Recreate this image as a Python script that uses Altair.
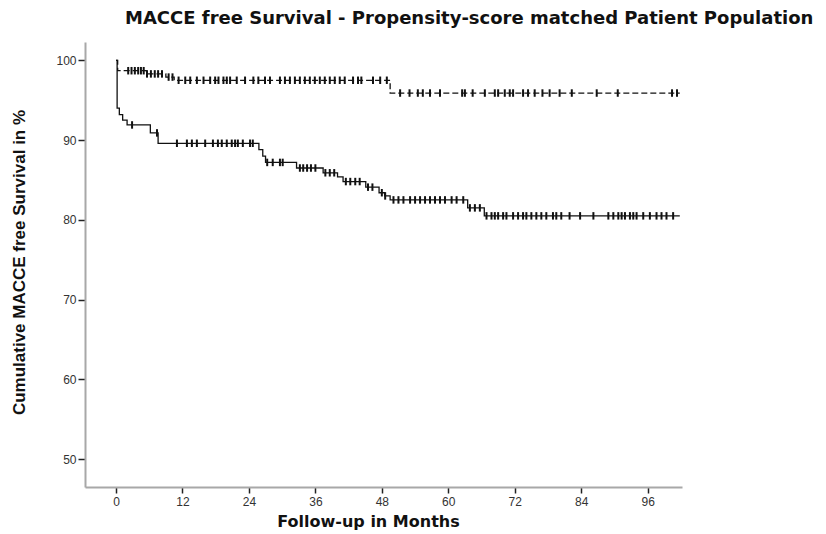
import altair as alt
import pandas as pd
import bisect

# ---- Kaplan-Meier step data (months, % MACCE-free survival) ----
lower_times = [0, 0.2, 0.6, 1.2, 2.0, 6.2, 7.6, 25.8, 26.5, 27.0, 32.6, 37.4, 40.0, 41.0,
               45.1, 47.5, 48.5, 49.5, 63.5, 66.5, 101.8]
lower_surv = [100, 94.0, 93.2, 92.5, 91.9, 90.9, 89.6, 88.8, 88.0, 87.2, 86.5, 85.9, 85.4, 84.8,
              84.1, 83.4, 83.0, 82.5, 81.5, 80.5, 80.5]

upper_times = [0, 0.3, 5.5, 9.0, 10.5, 49.5, 101.8]
upper_surv = [100, 98.7, 98.3, 97.9, 97.5, 95.9, 95.9]

# ---- censoring times (months) ----
lower_censor = [2.9, 7.4,
                11.0, 12.8, 13.7, 14.6, 16.1, 17.5, 18.4, 19.1, 20.0, 20.9, 21.5, 22.0, 22.9, 24.2, 24.7,
                27.3, 28.3, 29.6, 30.1,
                33.2, 33.8, 34.5, 35.2, 36.0,
                37.8, 38.6, 39.4,
                41.5, 42.3, 43.2, 44.0,
                45.5, 46.3,
                48.0, 48.6, 50.1, 51.0, 51.9, 53.1, 54.0, 54.9, 55.8, 56.7, 57.6, 58.5, 59.4, 60.6, 61.5, 62.7,
                63.9, 64.8, 65.7,
                66.9, 67.8, 68.4, 69.0, 69.9, 70.5, 71.7, 72.6, 73.5, 74.1, 75.0, 75.9, 76.8, 77.7, 78.9,
                79.5, 80.4, 81.9, 83.8, 86.2, 88.9, 89.8, 90.7, 91.3, 91.9, 92.8, 93.4, 94.0, 95.2, 96.4,
                97.6, 98.5, 99.4, 100.6]

upper_censor = [2.2, 2.8, 3.4, 4.0, 4.5, 5.0, 5.6, 6.3, 7.0, 7.6, 8.3, 9.5, 10.2,
                11.3, 12.5, 13.4, 14.6, 15.8, 17.0, 17.9, 18.5, 19.4, 20.0, 20.6, 21.8, 23.3, 24.8,
                25.7, 26.9, 27.8, 29.6, 30.5, 31.4, 32.3, 33.2, 34.1, 35.0, 35.9, 36.8, 37.7, 38.6,
                39.5, 40.4, 41.3, 42.8, 43.7, 44.3, 46.4, 47.7, 48.9,
                51.3, 53.0, 54.5, 55.4, 56.7, 58.5, 62.5, 63.0, 64.4, 66.6, 68.4, 69.0, 70.2, 71.1,
                71.7, 73.5, 74.4, 75.6, 77.0, 78.3, 80.1, 82.3, 86.8, 90.6, 100.4, 101.3]

x_ticks = [0, 12, 24, 36, 48, 60, 72, 84, 96]
y_ticks = [50, 60, 70, 80, 90, 100]


def surv_at(times, surv, t):
    i = bisect.bisect_right(times, t) - 1
    return surv[max(i, 0)]


steps = pd.DataFrame(
    [{"t": t, "s": s, "g": "lower"} for t, s in zip(lower_times, lower_surv)]
    + [{"t": t, "s": s, "g": "upper"} for t, s in zip(upper_times, upper_surv)]
)
cens = pd.DataFrame(
    [{"t": t, "s": surv_at(lower_times, lower_surv, t), "g": "lower"} for t in lower_censor]
    + [{"t": t, "s": surv_at(upper_times, upper_surv, t), "g": "upper"} for t in upper_censor]
)

xscale = alt.Scale(domain=[-5.6, 102.2], nice=False, zero=False)
yscale = alt.Scale(domain=[46.5, 102.3], nice=False, zero=False)

xaxis = alt.Axis(values=x_ticks, title="Follow-up in Months", grid=False,
                 domainColor="#a8a8a8", domainWidth=2, tickColor="#222", tickSize=6, tickWidth=1.5,
                 labelFont="Liberation Sans", labelFontSize=12, labelColor="#333", labelPadding=3,
                 titleFont="DejaVu Sans", titleFontSize=16, titleFontWeight="bold", titleColor="#111",
                 titleX=283, titleY=34, titleAnchor="start", titleAlign="center", titleBaseline="middle")
yaxis = alt.Axis(values=y_ticks, title="Cumulative MACCE free Survival in %", grid=False,
                 domainColor="#a8a8a8", domainWidth=2, tickColor="#222", tickSize=7, tickWidth=1.5,
                 labelFont="Liberation Sans", labelFontSize=12, labelColor="#333", labelPadding=2,
                 titleFont="Liberation Sans", titleFontSize=17, titleFontWeight="bold", titleColor="#111",
                 titleX=-66, titleY=220, titleAngle=-90, titleAlign="center", titleBaseline="middle")

base = alt.Chart(steps)

lower_line = base.transform_filter(alt.datum.g == "lower").mark_line(
    interpolate="step-after", color="#111", strokeWidth=1.3
).encode(x=alt.X("t:Q", scale=xscale, axis=xaxis), y=alt.Y("s:Q", scale=yscale, axis=yaxis), order="t:Q")

upper_line = base.transform_filter(alt.datum.g == "upper").mark_line(
    interpolate="step-after", color="#111", strokeWidth=1.3, strokeDash=[6, 3]
).encode(x=alt.X("t:Q", scale=xscale), y=alt.Y("s:Q", scale=yscale), order="t:Q")

marks = alt.Chart(cens).mark_point(
    shape="M0,-1L0,1", size=56, color="#111", strokeWidth=2, filled=False, opacity=1
).encode(x=alt.X("t:Q", scale=xscale), y=alt.Y("s:Q", scale=yscale))

chart = alt.layer(lower_line, upper_line, marks).properties(
    width=597, height=445,
    autosize="none",
    background="white",
    padding={"left": 77, "top": 34, "right": 136, "bottom": 44},
    title=alt.TitleParams(
        text="MACCE free Survival - Propensity-score matched Patient Population",
        anchor="start", frame="group", dx=40, offset=14, font="DejaVu Sans", fontSize=18,
        fontWeight="bold", color="#111"),
).configure_view(strokeWidth=0)

chart.save("out.html", embed_options={"renderer": "svg", "actions": False})
